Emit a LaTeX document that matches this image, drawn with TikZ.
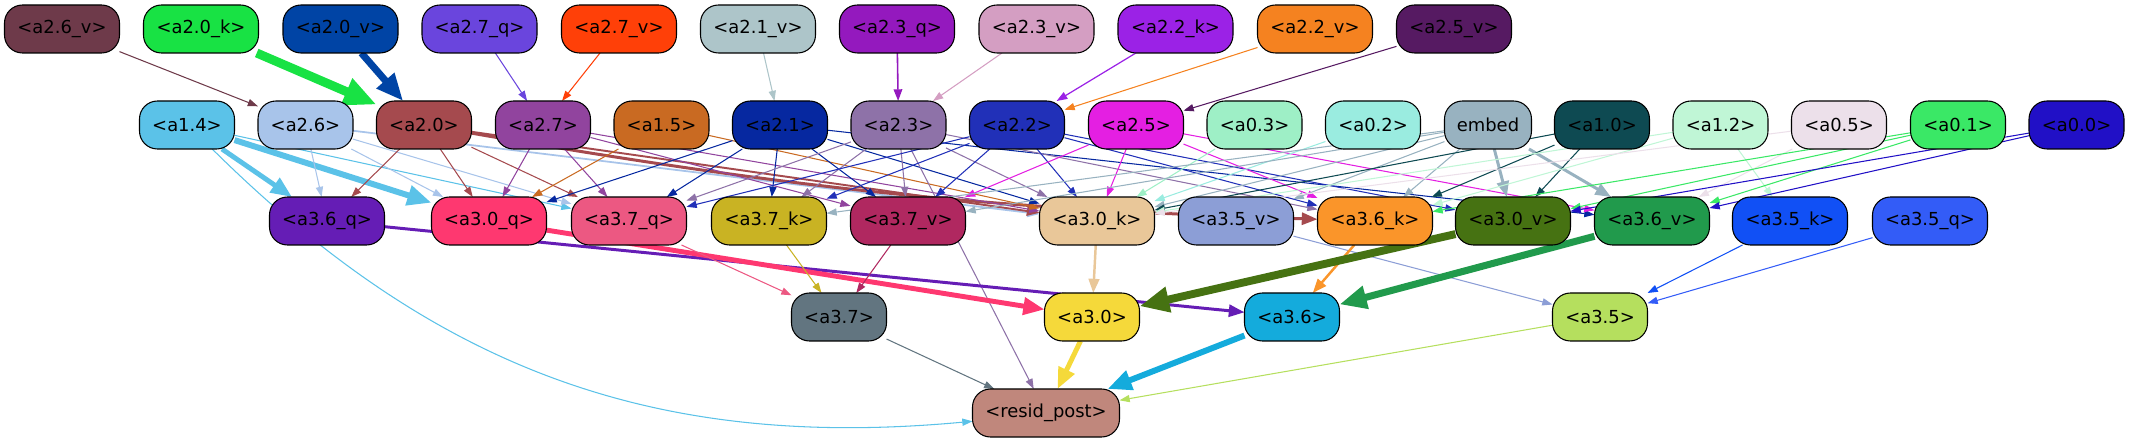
\documentclass[tikz,border=0pt]{standalone}
\usepackage{fontspec}
\setmainfont{DejaVu Sans}
\usepackage{tikz}
\usepackage{tikz-network}
\usetikzlibrary{arrows.meta}

\definecolor{c26v}{HTML}{6E3A4A}
\definecolor{c20k}{HTML}{18E244}
\definecolor{c20v}{HTML}{0044A5}
\definecolor{c27q}{HTML}{6A45DD}
\definecolor{c27v}{HTML}{FF4008}
\definecolor{c21v}{HTML}{ADC5C9}
\definecolor{c23q}{HTML}{9419BE}
\definecolor{c23v}{HTML}{D49EC2}
\definecolor{c22k}{HTML}{9B22E6}
\definecolor{c22v}{HTML}{F58220}
\definecolor{c25v}{HTML}{561A62}
\definecolor{c14}{HTML}{5BC2E8}
\definecolor{c26}{HTML}{A8C4EA}
\definecolor{c20}{HTML}{A54A4E}
\definecolor{c27}{HTML}{91449E}
\definecolor{c15}{HTML}{C96A22}
\definecolor{c21}{HTML}{0628A0}
\definecolor{c23}{HTML}{8E72A8}
\definecolor{c22}{HTML}{2130B8}
\definecolor{c25}{HTML}{E41FE2}
\definecolor{c03}{HTML}{9EEFC6}
\definecolor{c02}{HTML}{9AECE0}
\definecolor{cembed}{HTML}{98B2C0}
\definecolor{c10}{HTML}{0E4A52}
\definecolor{c12}{HTML}{C0F6D6}
\definecolor{c05}{HTML}{ECE0EA}
\definecolor{c01}{HTML}{3AE866}
\definecolor{c00}{HTML}{2110C6}
\definecolor{c36q}{HTML}{651DB5}
\definecolor{c30q}{HTML}{FE3870}
\definecolor{c37q}{HTML}{EC5882}
\definecolor{c37k}{HTML}{C9B323}
\definecolor{c37v}{HTML}{B02860}
\definecolor{c30k}{HTML}{E9C799}
\definecolor{c35v}{HTML}{8C9ED6}
\definecolor{c36k}{HTML}{FA952A}
\definecolor{c30v}{HTML}{467212}
\definecolor{c36v}{HTML}{219A4C}
\definecolor{c35k}{HTML}{1150F5}
\definecolor{c35q}{HTML}{335CF7}
\definecolor{c37}{HTML}{627580}
\definecolor{c30}{HTML}{F5D93A}
\definecolor{c36}{HTML}{14ABDC}
\definecolor{c35}{HTML}{B5DF5E}
\definecolor{cresid}{HTML}{C0877C}

\newcommand{\gvfont}{\fontsize{10.2pt}{12pt}\selectfont}

\tikzset{
  gvbox/.style={rounded corners=0.36cm, line width=0.6pt, draw=black},
  longbox/.style={gvbox, minimum width=2.3cm},
  shortbox/.style={gvbox, minimum width=1.9cm},
  gvtip/.style={-{Triangle[length=4.1pt 2.84,width=2.6pt 2.5]}}
}

\begin{document}
\begin{tikzpicture}
	\useasboundingbox (0,0) rectangle (42.6,8.86);
	% top row
	\Vertex[x=1.24,y=8.28,size=0.96,shape=rectangle,color=c26v,fontsize=\gvfont,label={<a2.6\_v>},style={longbox}]{a26v}
	\Vertex[x=4.02,y=8.28,size=0.96,shape=rectangle,color=c20k,fontsize=\gvfont,label={<a2.0\_k>},style={longbox}]{a20k}
	\Vertex[x=6.81,y=8.28,size=0.96,shape=rectangle,color=c20v,fontsize=\gvfont,label={<a2.0\_v>},style={longbox}]{a20v}
	\Vertex[x=9.59,y=8.28,size=0.96,shape=rectangle,color=c27q,fontsize=\gvfont,label={<a2.7\_q>},style={longbox}]{a27q}
	\Vertex[x=12.38,y=8.28,size=0.96,shape=rectangle,color=c27v,fontsize=\gvfont,label={<a2.7\_v>},style={longbox}]{a27v}
	\Vertex[x=15.16,y=8.28,size=0.96,shape=rectangle,color=c21v,fontsize=\gvfont,label={<a2.1\_v>},style={longbox}]{a21v}
	\Vertex[x=17.94,y=8.28,size=0.96,shape=rectangle,color=c23q,fontsize=\gvfont,label={<a2.3\_q>},style={longbox}]{a23q}
	\Vertex[x=20.73,y=8.28,size=0.96,shape=rectangle,color=c23v,fontsize=\gvfont,label={<a2.3\_v>},style={longbox}]{a23v}
	\Vertex[x=23.51,y=8.28,size=0.96,shape=rectangle,color=c22k,fontsize=\gvfont,label={<a2.2\_k>},style={longbox}]{a22k}
	\Vertex[x=26.30,y=8.28,size=0.96,shape=rectangle,color=c22v,fontsize=\gvfont,label={<a2.2\_v>},style={longbox}]{a22v}
	\Vertex[x=29.08,y=8.28,size=0.96,shape=rectangle,color=c25v,fontsize=\gvfont,label={<a2.5\_v>},style={longbox}]{a25v}
	% second row
	\Vertex[x=3.74,y=6.36,size=0.96,shape=rectangle,color=c14,fontsize=\gvfont,label={<a1.4>},style={shortbox}]{a14}
	\Vertex[x=6.11,y=6.36,size=0.96,shape=rectangle,color=c26,fontsize=\gvfont,label={<a2.6>},style={shortbox}]{a26}
	\Vertex[x=8.48,y=6.36,size=0.96,shape=rectangle,color=c20,fontsize=\gvfont,label={<a2.0>},style={shortbox}]{a20}
	\Vertex[x=10.86,y=6.36,size=0.96,shape=rectangle,color=c27,fontsize=\gvfont,label={<a2.7>},style={shortbox}]{a27}
	\Vertex[x=13.23,y=6.36,size=0.96,shape=rectangle,color=c15,fontsize=\gvfont,label={<a1.5>},style={shortbox}]{a15}
	\Vertex[x=15.60,y=6.36,size=0.96,shape=rectangle,color=c21,fontsize=\gvfont,label={<a2.1>},style={shortbox}]{a21}
	\Vertex[x=17.97,y=6.36,size=0.96,shape=rectangle,color=c23,fontsize=\gvfont,label={<a2.3>},style={shortbox}]{a23}
	\Vertex[x=20.34,y=6.36,size=0.96,shape=rectangle,color=c22,fontsize=\gvfont,label={<a2.2>},style={shortbox}]{a22}
	\Vertex[x=22.72,y=6.36,size=0.96,shape=rectangle,color=c25,fontsize=\gvfont,label={<a2.5>},style={shortbox}]{a25}
	\Vertex[x=25.09,y=6.36,size=0.96,shape=rectangle,color=c03,fontsize=\gvfont,label={<a0.3>},style={shortbox}]{a03}
	\Vertex[x=27.46,y=6.36,size=0.96,shape=rectangle,color=c02,fontsize=\gvfont,label={<a0.2>},style={shortbox}]{a02}
	\Vertex[x=29.76,y=6.36,size=0.96,shape=rectangle,color=cembed,fontsize=\gvfont,label={embed},style={gvbox,minimum width=1.74cm}]{embed}
	\Vertex[x=32.04,y=6.36,size=0.96,shape=rectangle,color=c10,fontsize=\gvfont,label={<a1.0>},style={shortbox}]{a10}
	\Vertex[x=34.41,y=6.36,size=0.96,shape=rectangle,color=c12,fontsize=\gvfont,label={<a1.2>},style={shortbox}]{a12}
	\Vertex[x=36.78,y=6.36,size=0.96,shape=rectangle,color=c05,fontsize=\gvfont,label={<a0.5>},style={shortbox}]{a05}
	\Vertex[x=39.16,y=6.36,size=0.96,shape=rectangle,color=c01,fontsize=\gvfont,label={<a0.1>},style={shortbox}]{a01}
	\Vertex[x=41.53,y=6.36,size=0.96,shape=rectangle,color=c00,fontsize=\gvfont,label={<a0.0>},style={shortbox}]{a00}
	% third row
	\Vertex[x=6.54,y=4.44,size=0.96,shape=rectangle,color=c36q,fontsize=\gvfont,label={<a3.6\_q>},style={longbox}]{a36q}
	\Vertex[x=9.78,y=4.44,size=0.96,shape=rectangle,color=c30q,fontsize=\gvfont,label={<a3.0\_q>},style={longbox}]{a30q}
	\Vertex[x=12.58,y=4.44,size=0.96,shape=rectangle,color=c37q,fontsize=\gvfont,label={<a3.7\_q>},style={longbox}]{a37q}
	\Vertex[x=15.38,y=4.44,size=0.96,shape=rectangle,color=c37k,fontsize=\gvfont,label={<a3.7\_k>},style={longbox}]{a37k}
	\Vertex[x=18.16,y=4.44,size=0.96,shape=rectangle,color=c37v,fontsize=\gvfont,label={<a3.7\_v>},style={longbox}]{a37v}
	\Vertex[x=21.94,y=4.44,size=0.96,shape=rectangle,color=c30k,fontsize=\gvfont,label={<a3.0\_k>},style={longbox}]{a30k}
	\Vertex[x=24.72,y=4.44,size=0.96,shape=rectangle,color=c35v,fontsize=\gvfont,label={<a3.5\_v>},style={longbox}]{a35v}
	\Vertex[x=27.50,y=4.44,size=0.96,shape=rectangle,color=c36k,fontsize=\gvfont,label={<a3.6\_k>},style={longbox}]{a36k}
	\Vertex[x=30.26,y=4.44,size=0.96,shape=rectangle,color=c30v,fontsize=\gvfont,label={<a3.0\_v>},style={longbox}]{a30v}
	\Vertex[x=33.04,y=4.44,size=0.96,shape=rectangle,color=c36v,fontsize=\gvfont,label={<a3.6\_v>},style={longbox}]{a36v}
	\Vertex[x=35.80,y=4.44,size=0.96,shape=rectangle,color=c35k,fontsize=\gvfont,label={<a3.5\_k>},style={longbox}]{a35k}
	\Vertex[x=38.60,y=4.44,size=0.96,shape=rectangle,color=c35q,fontsize=\gvfont,label={<a3.5\_q>},style={longbox}]{a35q}
	% fourth row and output
	\Vertex[x=16.78,y=2.52,size=0.96,shape=rectangle,color=c37,fontsize=\gvfont,label={<a3.7>},style={shortbox}]{a37}
	\Vertex[x=21.84,y=2.52,size=0.96,shape=rectangle,color=c30,fontsize=\gvfont,label={<a3.0>},style={shortbox}]{a30}
	\Vertex[x=25.84,y=2.52,size=0.96,shape=rectangle,color=c36,fontsize=\gvfont,label={<a3.6>},style={shortbox}]{a36}
	\Vertex[x=32.00,y=2.52,size=0.96,shape=rectangle,color=c35,fontsize=\gvfont,label={<a3.5>},style={shortbox}]{a35}
	\Vertex[x=20.92,y=0.60,size=0.96,shape=rectangle,color=cresid,fontsize=\gvfont,label={<resid\_post>},style={gvbox,minimum width=2.94cm}]{resid}
	% top row to second row
	\Edge[lw=0.6pt,color=c26v,style={gvtip}](a26v)(a26)
	\Edge[lw=5.1pt,color=c20k,style={gvtip}](a20k)(a20)
	\Edge[lw=4pt,color=c20v,style={gvtip}](a20v)(a20)
	\Edge[lw=0.6pt,color=c27q,style={gvtip}](a27q)(a27)
	\Edge[lw=0.6pt,color=c27v,style={gvtip}](a27v)(a27)
	\Edge[lw=0.6pt,color=c21v,style={gvtip}](a21v)(a21)
	\Edge[lw=0.9pt,color=c23q,style={gvtip}](a23q)(a23)
	\Edge[lw=0.6pt,color=c23v,style={gvtip}](a23v)(a23)
	\Edge[lw=0.7pt,color=c22k,style={gvtip}](a22k)(a22)
	\Edge[lw=0.6pt,color=c22v,style={gvtip}](a22v)(a22)
	\Edge[lw=0.6pt,color=c25v,style={gvtip}](a25v)(a25)
	% second row to third row
	\Edge[lw=2.8pt,color=c14,style={gvtip}](a14)(a36q)
	\Edge[lw=3.4pt,color=c14,style={gvtip}](a14)(a30q)
	\Edge[lw=0.6pt,color=c14,style={gvtip}](a14)(a37q)
	\Edge[lw=0.6pt,color=c14,bend=-25,style={gvtip}](a14)(resid)
	\Edge[lw=0.6pt,color=c26,style={gvtip}](a26)(a36q)
	\Edge[lw=0.6pt,color=c26,style={gvtip}](a26)(a30q)
	\Edge[lw=0.6pt,color=c26,style={gvtip}](a26)(a37q)
	\Edge[lw=1pt,color=c26,style={gvtip}](a26)(a30k)
	\Edge[lw=0.6pt,color=c20,style={gvtip}](a20)(a36q)
	\Edge[lw=0.6pt,color=c20,style={gvtip}](a20)(a30q)
	\Edge[lw=0.6pt,color=c20,style={gvtip}](a20)(a37q)
	\Edge[lw=1.1pt,color=c20,style={gvtip}](a20)(a30k)
	\Edge[lw=1.7pt,color=c20,bend=-4,style={gvtip}](a20)(a36k)
	\Edge[lw=0.6pt,color=c27,style={gvtip}](a27)(a30q)
	\Edge[lw=0.6pt,color=c27,style={gvtip}](a27)(a37q)
	\Edge[lw=0.6pt,color=c27,style={gvtip}](a27)(a37v)
	\Edge[lw=0.6pt,color=c27,style={gvtip}](a27)(a30k)
	\Edge[lw=0.6pt,color=c15,style={gvtip}](a15)(a30q)
	\Edge[lw=0.6pt,color=c15,style={gvtip}](a15)(a30k)
	\Edge[lw=0.6pt,color=c21,style={gvtip}](a21)(a30q)
	\Edge[lw=0.6pt,color=c21,style={gvtip}](a21)(a37q)
	\Edge[lw=0.6pt,color=c21,style={gvtip}](a21)(a37k)
	\Edge[lw=0.6pt,color=c21,style={gvtip}](a21)(a37v)
	\Edge[lw=0.6pt,color=c21,style={gvtip}](a21)(a30k)
	\Edge[lw=0.6pt,color=c21,style={gvtip}](a21)(a36v)
	\Edge[lw=0.6pt,color=c23,style={gvtip}](a23)(a37q)
	\Edge[lw=0.6pt,color=c23,style={gvtip}](a23)(a37k)
	\Edge[lw=0.6pt,color=c23,style={gvtip}](a23)(a37v)
	\Edge[lw=0.6pt,color=c23,style={gvtip}](a23)(a30k)
	\Edge[lw=0.6pt,color=c23,style={gvtip}](a23)(a36k)
	\Edge[lw=0.6pt,color=c23,style={gvtip}](a23)(resid)
	\Edge[lw=0.6pt,color=c22,style={gvtip}](a22)(a37q)
	\Edge[lw=0.6pt,color=c22,style={gvtip}](a22)(a37k)
	\Edge[lw=0.6pt,color=c22,style={gvtip}](a22)(a37v)
	\Edge[lw=0.6pt,color=c22,style={gvtip}](a22)(a30k)
	\Edge[lw=0.6pt,color=c22,style={gvtip}](a22)(a36k)
	\Edge[lw=0.6pt,color=c22,style={gvtip}](a22)(a30v)
	\Edge[lw=0.6pt,color=c25,style={gvtip}](a25)(a37v)
	\Edge[lw=0.6pt,color=c25,style={gvtip}](a25)(a30k)
	\Edge[lw=0.6pt,color=c25,style={gvtip}](a25)(a36k)
	\Edge[lw=0.6pt,color=c25,style={gvtip}](a25)(a36v)
	\Edge[lw=0.6pt,color=c03,style={gvtip}](a03)(a30k)
	\Edge[lw=0.6pt,color=c02,style={gvtip}](a02)(a30k)
	\Edge[lw=0.6pt,color=cembed,style={gvtip}](embed)(a37k)
	\Edge[lw=0.6pt,color=cembed,style={gvtip}](embed)(a37v)
	\Edge[lw=0.6pt,color=cembed,style={gvtip}](embed)(a30k)
	\Edge[lw=0.6pt,color=cembed,style={gvtip}](embed)(a35v)
	\Edge[lw=0.6pt,color=cembed,style={gvtip}](embed)(a36k)
	\Edge[lw=1.7pt,color=cembed,style={gvtip}](embed)(a30v)
	\Edge[lw=1.7pt,color=cembed,style={gvtip}](embed)(a36v)
	\Edge[lw=0.6pt,color=c10,style={gvtip}](a10)(a30k)
	\Edge[lw=0.6pt,color=c10,style={gvtip}](a10)(a36k)
	\Edge[lw=0.6pt,color=c10,style={gvtip}](a10)(a30v)
	\Edge[lw=0.6pt,color=c12,style={gvtip}](a12)(a30k)
	\Edge[lw=0.6pt,color=c12,style={gvtip}](a12)(a36k)
	\Edge[lw=0.6pt,color=c12,style={gvtip}](a12)(a35k)
	\Edge[lw=0.6pt,color=c05,style={gvtip}](a05)(a30k)
	\Edge[lw=0.6pt,color=c05,style={gvtip}](a05)(a36v)
	\Edge[lw=0.6pt,color=c01,style={gvtip}](a01)(a36k)
	\Edge[lw=0.6pt,color=c01,style={gvtip}](a01)(a30v)
	\Edge[lw=0.6pt,color=c01,style={gvtip}](a01)(a36v)
	\Edge[lw=0.6pt,color=c00,style={gvtip}](a00)(a30v)
	\Edge[lw=0.6pt,color=c00,style={gvtip}](a00)(a36v)
	% third row to fourth row
	\Edge[lw=1.7pt,color=c36q,style={gvtip}](a36q)(a36)
	\Edge[lw=2.8pt,color=c30q,style={gvtip}](a30q)(a30)
	\Edge[lw=0.6pt,color=c37q,style={gvtip}](a37q)(a37)
	\Edge[lw=0.6pt,color=c37k,style={gvtip}](a37k)(a37)
	\Edge[lw=0.6pt,color=c37v,style={gvtip}](a37v)(a37)
	\Edge[lw=1.4pt,color=c30k,style={gvtip}](a30k)(a30)
	\Edge[lw=0.6pt,color=c35v,style={gvtip}](a35v)(a35)
	\Edge[lw=1.4pt,color=c36k,style={gvtip}](a36k)(a36)
	\Edge[lw=4.5pt,color=c30v,style={gvtip}](a30v)(a30)
	\Edge[lw=4pt,color=c36v,style={gvtip}](a36v)(a36)
	\Edge[lw=0.6pt,color=c35k,style={gvtip}](a35k)(a35)
	\Edge[lw=0.6pt,color=c35q,style={gvtip}](a35q)(a35)
	% into the output
	\Edge[lw=0.6pt,color=c37,style={gvtip}](a37)(resid)
	\Edge[lw=2.8pt,color=c30,style={gvtip}](a30)(resid)
	\Edge[lw=3.4pt,color=c36,style={gvtip}](a36)(resid)
	\Edge[lw=0.6pt,color=c35,style={gvtip}](a35)(resid)
\end{tikzpicture}
\end{document}
